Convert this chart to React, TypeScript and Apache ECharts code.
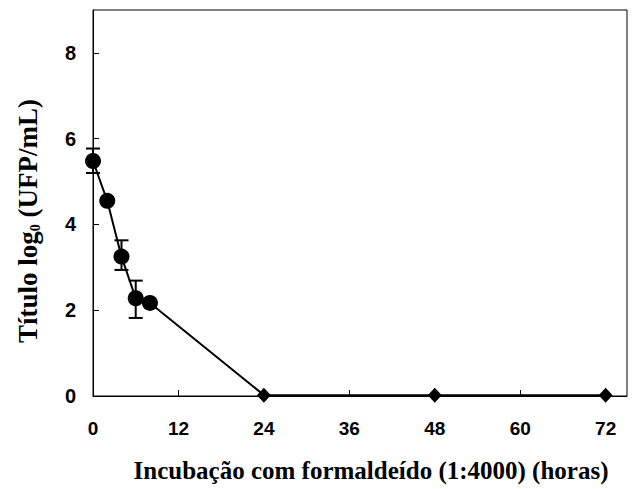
import React, { useEffect, useRef } from "react";
import * as echarts from "echarts";

const hours = [0, 2, 4, 6, 8, 24, 48, 72];
const titre = [5.48, 4.55, 3.25, 2.28, 2.17, 0.02, 0.02, 0.02];
const circleIdx = [0, 1, 2, 3, 4];
const diamondIdx = [5, 6, 7];
const errLow = [5.2, 4.5, 2.94, 1.82];
const errHigh = [5.77, 4.6, 3.63, 2.69];
const errHours = [0, 2, 4, 6];
const xTicks = [0, 12, 24, 36, 48, 60, 72];
const yTicks = [0, 2, 4, 6, 8];
const xTitle = "Incubação com formaldeído (1:4000) (horas)";
const yTitle = "{a|Título log}{b|0}{a| (UFP/mL)}";

export default function App() {
  const ref = useRef<HTMLDivElement>(null);
  useEffect(() => {
    document.body.style.margin = "0";
    if (!ref.current) return;
    const chart = echarts.init(ref.current, undefined, { renderer: "svg" });
    const lineData = hours.map((h, i) => [h, titre[i]]);
    const errData = errHours.map((h, i) => [h, errLow[i], errHigh[i]]);
    chart.setOption({
      animation: false,
      backgroundColor: "#ffffff",
      grid: {
        left: 93,
        top: 10,
        right: 15,
        bottom: 93,
        show: true,
        borderColor: "#000",
        borderWidth: 1,
        containLabel: false,
      },
      graphic: [
        {
          type: "text",
          x: 371,
          y: 470,
          style: {
            text: xTitle,
            fontFamily: "Liberation Serif",
            fontWeight: "bold",
            fontSize: 25,
            fill: "#000",
            align: "center",
            verticalAlign: "middle",
          },
        },
        {
          type: "text",
          x: 28,
          y: 221,
          rotation: Math.PI / 2,
          style: {
            text: yTitle,
            align: "center",
            verticalAlign: "middle",
            rich: {
              a: {
                fontFamily: "Liberation Serif",
                fontWeight: "bold",
                fontSize: 27,
                fill: "#000",
              },
              b: {
                fontFamily: "Liberation Serif",
                fontWeight: "bold",
                fontSize: 14,
                fill: "#000",
                padding: [14, 0, 0, 0],
              },
            },
          },
        },
      ],
      xAxis: {
        type: "value",
        min: 0,
        max: 75,
        interval: 12,
        axisLine: { show: true, onZero: false, lineStyle: { color: "#000", width: 1 } },
        axisTick: { show: true, inside: true, length: 6, lineStyle: { color: "#000" } },
        axisLabel: {
          showMaxLabel: false,
          margin: 23,
          fontFamily: "Liberation Sans",
          fontWeight: "bold",
          fontSize: 19,
          color: "#000",
          formatter: (v: number) => (xTicks.includes(v) ? String(v) : ""),
        },
        splitLine: { show: false },
      },
      yAxis: {
        type: "value",
        min: 0,
        max: 9,
        interval: 2,
        axisLine: { show: true, onZero: false, lineStyle: { color: "#000", width: 1 } },
        axisTick: { show: true, inside: true, length: 6, lineStyle: { color: "#000" } },
        axisLabel: {
          showMaxLabel: false,
          margin: 17,
          fontFamily: "Liberation Sans",
          fontWeight: "bold",
          fontSize: 20,
          color: "#000",
          formatter: (v: number) => (yTicks.includes(v) ? String(v) : ""),
        },
        splitLine: { show: false },
      },
      series: [
        {
          type: "line",
          data: lineData,
          showSymbol: false,
          lineStyle: { color: "#000", width: 2 },
          z: 2,
        },
        {
          type: "custom",
          data: errData,
          z: 3,
          renderItem: (params: any, api: any) => {
            const x = api.value(0);
            const lo = api.coord([x, api.value(1)]);
            const hi = api.coord([x, api.value(2)]);
            const hw = 7;
            const style = { stroke: "#000", lineWidth: 2 };
            return {
              type: "group",
              children: [
                { type: "line", shape: { x1: lo[0], y1: lo[1], x2: hi[0], y2: hi[1] }, style },
                { type: "line", shape: { x1: lo[0] - hw, y1: lo[1], x2: lo[0] + hw, y2: lo[1] }, style },
                { type: "line", shape: { x1: hi[0] - hw, y1: hi[1], x2: hi[0] + hw, y2: hi[1] }, style },
              ],
            };
          },
        },
        {
          type: "scatter",
          data: circleIdx.map((i) => [hours[i], titre[i]]),
          symbol: "circle",
          symbolSize: 16,
          itemStyle: { color: "#000", opacity: 1 },
          z: 4,
        },
        {
          type: "scatter",
          data: diamondIdx.map((i) => [hours[i], titre[i]]),
          symbol: "diamond",
          symbolSize: [14, 15],
          itemStyle: { color: "#000", opacity: 1 },
          z: 4,
        },
      ],
    });
    return () => chart.dispose();
  }, []);
  return <div ref={ref} style={{ width: 642, height: 489 }} />;
}
